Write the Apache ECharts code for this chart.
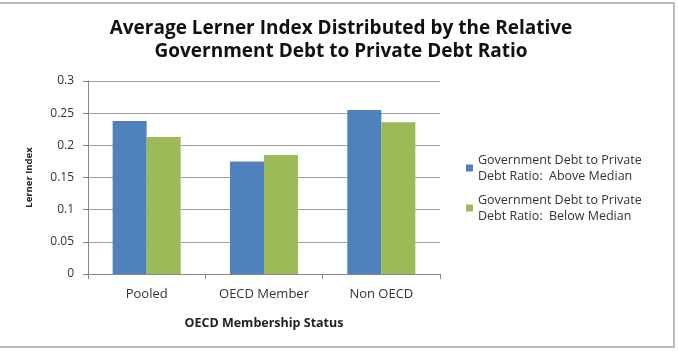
<!DOCTYPE html>
<html><head><meta charset="utf-8">
<script src="https://cdn.jsdelivr.net/npm/echarts@6/dist/echarts.min.js"></script>
<style>html,body{margin:0;padding:0;background:#fff}#c{width:678px;height:356px}</style>
</head><body><div id="c"></div>
<script>
const categories = ['Pooled', 'OECD Member', 'Non OECD'];
const aboveMedian = [0.238, 0.175, 0.255];
const belowMedian = [0.213, 0.185, 0.236];
const seriesNames = ['Government Debt to Private\nDebt Ratio:  Above Median', 'Government Debt to Private\nDebt Ratio:  Below Median'];
const yTicks = [0, 0.05, 0.1, 0.15, 0.2, 0.25, 0.3];

const font = "'Open Sans', 'Noto Sans', sans-serif";
const chart = echarts.init(document.getElementById('c'));
chart.setOption({
  animation: false,
  backgroundColor: '#fff',
  textStyle: { fontFamily: font },
  title: {
    text: 'Average Lerner Index Distributed by the Relative\nGovernment Debt to Private Debt Ratio',
    left: 336, top: 12, textAlign: 'center',
    textStyle: { fontFamily: font, fontSize: 19, fontWeight: 'bold', color: '#111', lineHeight: 23 }
  },
  graphic: [{
    type: 'rect', shape: { x: -2, y: 3, width: 676, height: 344 },
    style: { fill: 'none', stroke: '#a6a6a6', lineWidth: 1.5 }, silent: true
  }],
  legend: {
    orient: 'vertical', left: 461, top: 147, itemWidth: 7, itemHeight: 7, itemGap: 8,
    icon: 'rect',
    textStyle: { fontFamily: font, fontSize: 12.5, color: '#333', lineHeight: 16 },
    data: seriesNames
  },
  grid: { left: 88, right: 238, top: 81, bottom: 82 },
  xAxis: {
    type: 'category', data: categories,
    name: 'OECD Membership Status', nameLocation: 'middle', nameGap: 43,
    nameTextStyle: { fontFamily: font, fontSize: 12.5, fontWeight: 'bold', color: '#222' },
    axisLine: { lineStyle: { color: '#888' } },
    axisTick: { show: true, length: 5, lineStyle: { color: '#888' } },
    axisLabel: { fontFamily: font, fontSize: 13, color: '#333', margin: 14 }
  },
  yAxis: {
    type: 'value', min: 0, max: 0.3, interval: 0.05,
    name: 'Lerner Index', nameLocation: 'middle', nameGap: 54, nameRotate: 90,
    nameTextStyle: { fontFamily: font, fontSize: 9.5, fontWeight: 'bold', color: '#222' },
    axisLine: { show: true, lineStyle: { color: '#888' } },
    axisTick: { show: true, length: 5, inside: false, lineStyle: { color: '#888' } },
    axisLabel: { fontFamily: font, fontSize: 12, color: '#333', margin: 14,
      formatter: v => { const t = yTicks.find(x => Math.abs(x - v) < 1e-9); return String(t !== undefined ? t : v); } },
    splitLine: { lineStyle: { color: '#a0a0a0' } }
  },
  series: [
    { name: seriesNames[0], type: 'bar', data: aboveMedian, barGap: '0%', barCategoryGap: '42%', itemStyle: { color: '#4F81BD' } },
    { name: seriesNames[1], type: 'bar', data: belowMedian, itemStyle: { color: '#9BBB59' } }
  ]
});
</script></body></html>
